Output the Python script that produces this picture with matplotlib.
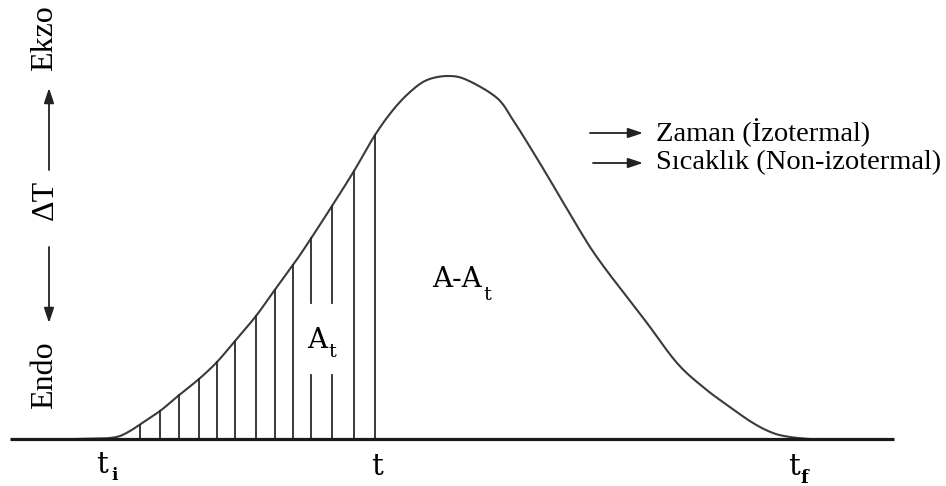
import numpy as np
import matplotlib
matplotlib.use("Agg")
import matplotlib.pyplot as plt

plt.rcParams['font.family'] = ['Liberation Serif', 'DejaVu Serif']

# Peak curve (x = time/temperature, h = ΔT above baseline)
curve_x = [75, 100, 110, 120, 130, 140, 160, 178, 199, 217, 235, 256, 274, 293, 308, 332, 354, 375,
           393, 410, 427, 448, 467, 497, 513, 530, 547, 557, 573, 590, 607, 627, 647, 677, 703, 727,
           753, 773, 790, 810, 820]
curve_h = [0, 0.5, 1, 3, 8, 14.5, 28, 43, 60, 77, 98, 123, 148, 174, 196, 233, 268, 304,
           329, 347, 359, 363, 359, 341, 319, 292, 264, 247, 220, 192, 168, 142, 116, 76, 52, 34,
           16, 6, 2, 0, 0]

# Hatch (A_t area) line positions
hatch_x = [140, 160, 179, 199, 217, 235, 256, 275, 293, 311, 332, 354, 375]
broken_x = [311, 332]          # lines interrupted by the "A_t" label
broken_gap = (64, 136)         # interrupted height range

baseline_range = (10, 894)
t_i, t_mid, t_f = 106, 377, 798


def catmull_rom(xs, ys, n=12):
    p = np.column_stack([xs, ys]).astype(float)
    p = np.vstack([p[0], p, p[-1]])
    out = []
    t = np.linspace(0, 1, n, endpoint=False)[:, None]
    for i in range(1, len(p) - 2):
        p0, p1, p2, p3 = p[i - 1], p[i], p[i + 1], p[i + 2]
        seg = 0.5 * ((2 * p1) + (-p0 + p2) * t + (2 * p0 - 5 * p1 + 4 * p2 - p3) * t ** 2
                     + (-p0 + 3 * p1 - 3 * p2 + p3) * t ** 3)
        out.append(seg)
    out.append(p[-2][None, :])
    out = np.vstack(out)
    return out[:, 0], out[:, 1]


fig = plt.figure(figsize=(9.46, 4.86), dpi=100)
ax = fig.add_axes([0, 0, 1, 1])
ax.set_xlim(0, 946)
ax.set_ylim(-47, 439)
ax.axis('off')

# baseline
ax.plot(baseline_range, [0, 0], color='#1a1a1a', lw=2.3, solid_capstyle='butt', zorder=3)
# curve (smooth)
sx, sy = catmull_rom(curve_x, curve_h)
ax.plot(sx, sy, color='#3a3a3a', lw=1.5, zorder=2)

# hatch lines
for hx in hatch_x:
    top = np.interp(hx, sx, sy)
    if hx in broken_x:
        ax.plot([hx, hx], [0, broken_gap[0]], color='#2a2a2a', lw=1.3)
        ax.plot([hx, hx], [broken_gap[1], top], color='#2a2a2a', lw=1.3)
    else:
        ax.plot([hx, hx], [0, top], color='#2a2a2a', lw=1.3)


def sub_label(x, y, main, sub, size, subsize, dx, dy, bold_sub=False):
    ax.text(x, y, main, family='DejaVu Serif', fontsize=size, ha='left', va='baseline')
    ax.text(x + dx, y + dy, sub, family='DejaVu Serif', fontsize=subsize, ha='left',
            va='baseline', fontweight='bold' if bold_sub else 'normal')


# area labels
sub_label(307, 91, 'A', 't', 20, 14, 21, -9)
sub_label(432, 152, 'A-A', 't', 20, 14, 51, -13)

# x labels
sub_label(t_i - 10, -34, 't', 'i', 21, 12, 15, -7, bold_sub=True)
ax.text(t_mid - 6, -36, 't', family='DejaVu Serif', fontsize=21, ha='left', va='baseline')
sub_label(t_f - 10, -36, 't', 'f', 21, 13, 12, -8, bold_sub=True)

# left axis labels
ax.text(45, 401, 'Ekzo', fontsize=23, rotation=90, ha='center', va='center')
ax.text(45, 239, 'ΔT', fontsize=23, rotation=90, ha='center', va='center')
ax.text(45, 64, 'Endo', fontsize=23, rotation=90, ha='center', va='center')

arrow_kw = dict(arrowstyle='-|>,head_length=0.9,head_width=0.3', color='#222222', lw=1.3,
                shrinkA=0, shrinkB=0)
ax.annotate('', xy=(49, 351), xytext=(49, 269), arrowprops=arrow_kw)
ax.annotate('', xy=(49, 116), xytext=(49, 192), arrowprops=arrow_kw)

# legend-like arrows
ax.annotate('', xy=(643, 306), xytext=(590, 306), arrowprops=arrow_kw)
ax.text(656, 306, 'Zaman (İzotermal)', fontsize=20.5, ha='left', va='center')
ax.annotate('', xy=(643, 276), xytext=(593, 276), arrowprops=arrow_kw)
ax.text(656, 276, 'Sıcaklık (Non-izotermal)', fontsize=20.5, ha='left', va='center')

fig.savefig('out.png', dpi=100)
